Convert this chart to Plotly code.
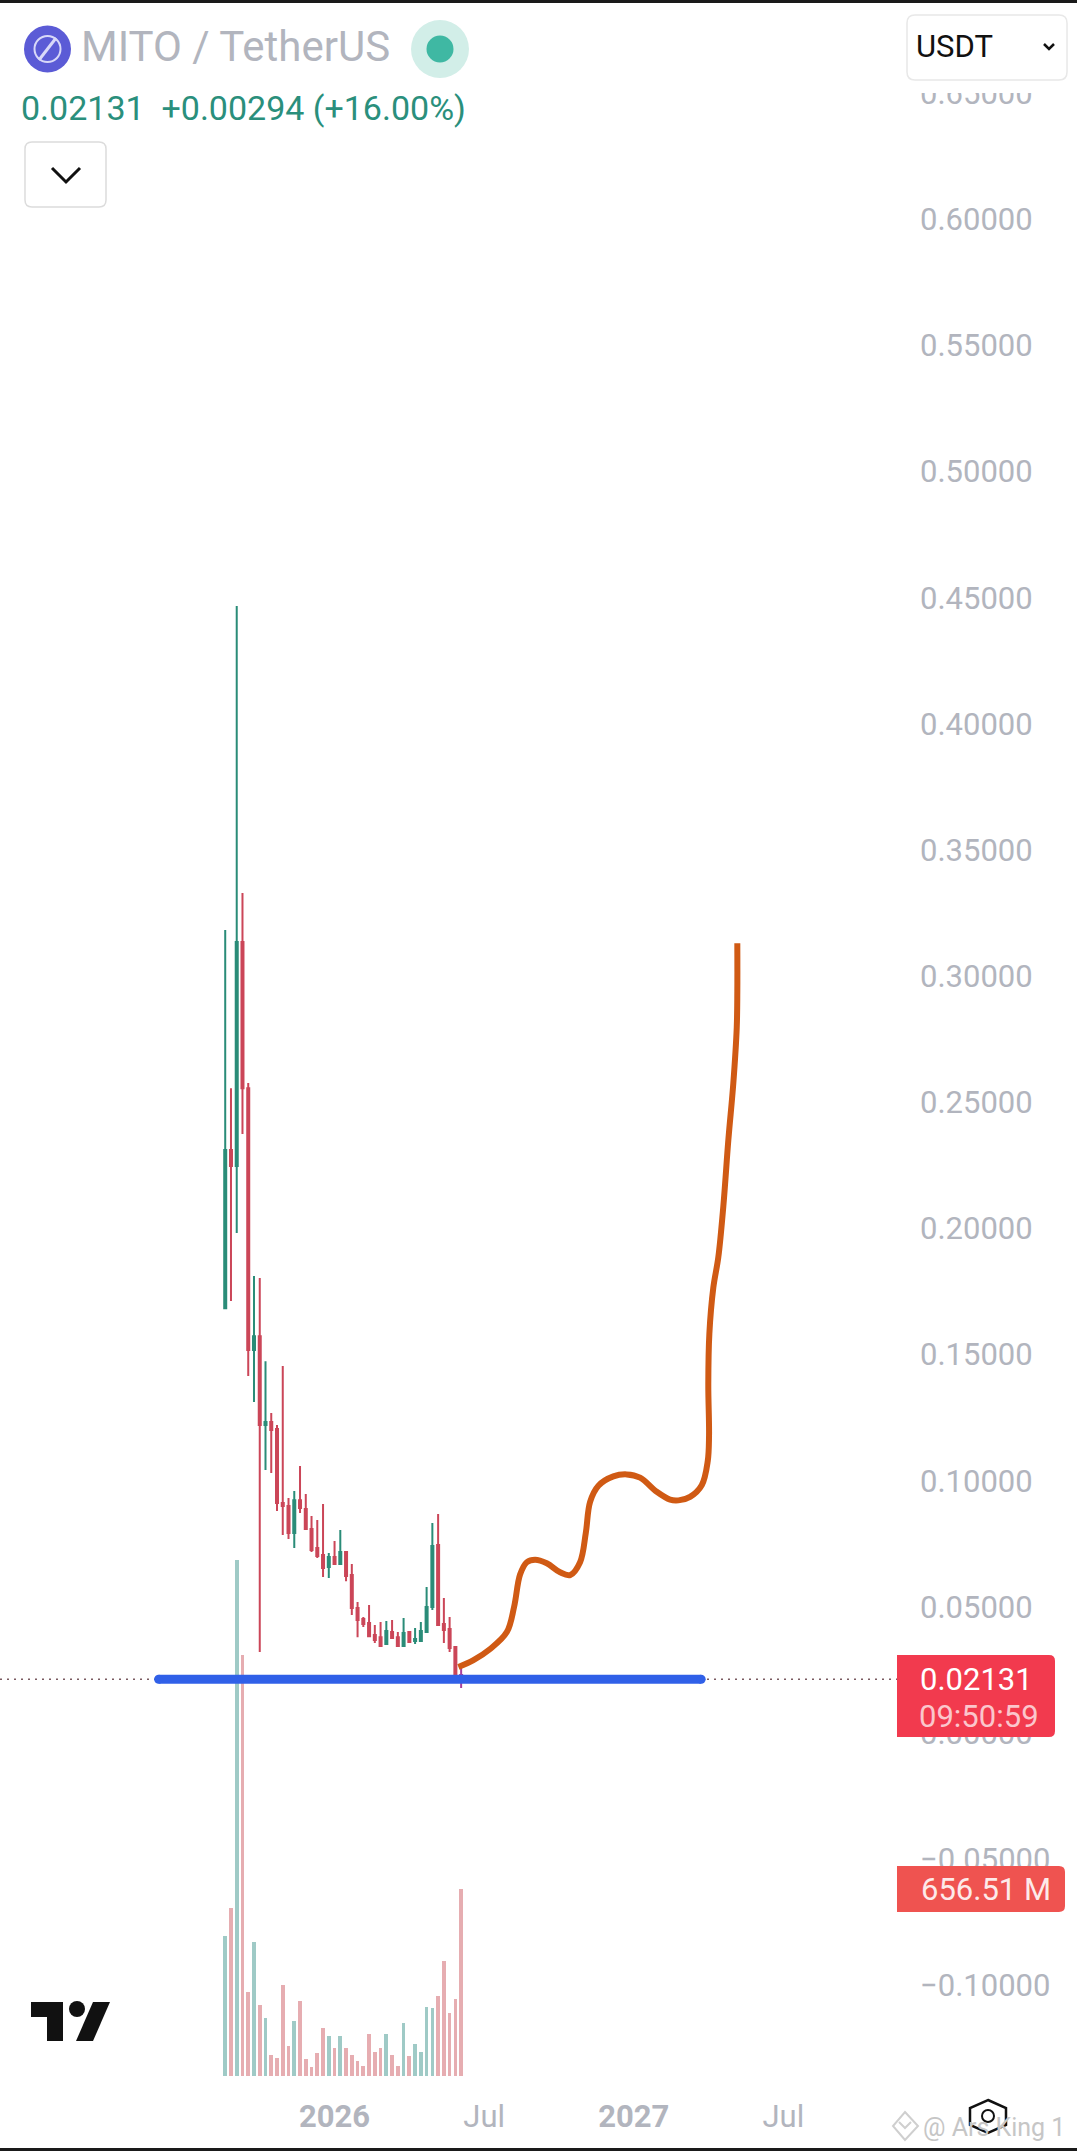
import pandas as pd
import plotly.graph_objects as go

# Weekly MITO/USDT candles
first_bar = "2025-08-18"
opens = [.1684, .2311, .2247, .3135, .2556, .1518, .1573, .1221, .1233, .1205, .0912, .0900, .0793, .0923,
         .0888, .0809, .0733, .0706, .0658, .0698, .0670, .0717, .0626, .0495, .0452, .0436, .0388, .0380,
         .0353, .0400, .0380, .0345, .0400, .0365, .0365, .0400, .0499, .0745, .0432, .0412, .0341, .0230]
highs = [.3183, .2556, .4467, .3329, .2576, .1811, .1803, .1474, .1268, .1221, .1455, .0931, .0959, .1058,
         .0947, .0860, .0844, .0908, .0713, .0761, .0805, .0717, .0670, .0519, .0460, .0507, .0428, .0440,
         .0444, .0448, .0400, .0456, .0400, .0416, .0440, .0579, .0832, .0868, .0535, .0460, .0341, .0262]
lows = [.1684, .1712, .1982, .2374, .1415, .1312, .0321, .1042, .1031, .0880, .0785, .0769, .0733, .0872,
        .0805, .0717, .0694, .0618, .0614, .0670, .0666, .0602, .0468, .0380, .0420, .0384, .0357, .0345,
        .0353, .0373, .0341, .0345, .0361, .0353, .0365, .0400, .0488, .0428, .0357, .0321, .0218, .0178]
closes = [.2311, .2247, .3135, .2556, .1518, .1573, .1221, .1233, .1201, .0912, .0900, .0793, .0923, .0892,
          .0809, .0725, .0702, .0654, .0698, .0670, .0717, .0622, .0495, .0448, .0432, .0384, .0369, .0345,
          .0404, .0377, .0345, .0396, .0361, .0373, .0404, .0499, .0741, .0428, .0408, .0337, .0230, .02131]

# volume in millions
volumes = [490, 589, 1810, 1477, 294, 472, 251, 203, 73, 64, 318, 106, 193, 262, 60, 30, 82, 169, 139, 100, 139,
           97, 75, 54, 36, 149, 85, 97, 149, 73, 36, 187, 69, 112, 85, 244, 239, 282, 403, 220, 272, 656.51]

# the hand drawn orange projection: days after the first bar, price
sketch_days = [283.7, 302, 322.3, 342.6, 351.5, 358.7, 366.9, 377, 391.2, 407.4, 419.6, 431.7, 438.7, 443.9, 454,
               472.2, 488.5, 504.7, 525, 541.2, 551.3, 565.5, 579.7, 587, 588.6, 587.7, 589, 593.8, 599.9, 606,
               612.1, 618.1, 622.3, 623, 623]
sketch_price = [.0262, .0289, .0333, .0400, .0501, .0628, .0677, .0687, .0673, .0637, .0626, .0677, .0794, .0916,
                .0980, .1017, .1025, .1012, .0956, .0925, .0922, .0936, .0982, .1077, .1178, .1381, .1583, .1765,
                .1886, .2088, .2351, .2574, .2796, .2938, .3130]

# the hand drawn blue support line
support_dates = ["2025-05-29", "2027-03-20"]
support_price = [.0213, .0213]

price_ticks = [-.10, -.05, 0, .05, .10, .15, .20, .25, .30, .35, .40, .45, .50, .55, .60, .65]
time_ticks = ["2025-12-29", "2026-06-29", "2026-12-28", "2027-06-28"]
time_labels = ["<b>2026</b>", "Jul", "<b>2027</b>", "Jul"]

GREEN = "#2a8c78"
RED = "#cb4658"
LABEL = "#b2b5be"
FONT = "Roboto"

PLOT_W, PLOT_H = 905, 2095


def X(px):
    return px / PLOT_W


def Y(py):
    return 1 - py / PLOT_H


def box(x0, y0, x1, y1, **kw):
    return dict(type="rect", xref="paper", yref="paper", x0=X(x0), y0=Y(y0), x1=X(x1), y1=Y(y1), **kw)


def rbox(x0, y0, x1, y1, r, left=True, **kw):
    # rounded rectangle; left=False keeps the left corners square like the price tags
    rl = r if left else 0
    p = lambda a, b: f"{X(a):.5f},{Y(b):.5f}"
    d = (f"M{p(x0 + rl, y0)} L{p(x1 - r, y0)} Q{p(x1, y0)} {p(x1, y0 + r)} L{p(x1, y1 - r)} Q{p(x1, y1)} {p(x1 - r, y1)} "
         f"L{p(x0 + rl, y1)} Q{p(x0, y1)} {p(x0, y1 - rl)} L{p(x0, y0 + rl)} Q{p(x0, y0)} {p(x0 + rl, y0)} Z")
    return dict(type="path", xref="paper", yref="paper", path=d, **kw)


def path(d, **kw):
    # d is a list of pixel points, closed when it is a polygon
    pts = " L".join(f"{X(a):.5f},{Y(b):.5f}" for a, b in d[0])
    return dict(type="path", xref="paper", yref="paper", path="M" + pts + (" Z" if d[1] else ""), **kw)


def disc(cx, cy, r, **kw):
    return dict(type="circle", xref="paper", yref="paper", x0=X(cx - r), x1=X(cx + r), y0=Y(cy - r), y1=Y(cy + r), **kw)


def label(text, px, py, size=31, color=LABEL, anchor="center"):
    return dict(text=text, xref="paper", yref="paper", x=X(px), y=Y(py), showarrow=False, xanchor=anchor,
                yanchor="middle", font=dict(size=size, color=color, family=FONT))


dates = pd.date_range(first_bar, periods=len(closes), freq="7D")
sketch_x = pd.Timestamp(first_bar) + pd.to_timedelta(sketch_days, unit="D")
vol_colors = ["#9fcac6" if c >= o else "#e6adb1" for o, c in zip(opens, closes)]

fig = go.Figure()

fig.add_trace(go.Bar(x=dates, y=volumes, marker_color=vol_colors, marker_line_width=0, width=3.9e8, yaxis="y"))


def candles(a, b, up, down):
    return go.Candlestick(
        x=dates[a:b], open=opens[a:b], high=highs[a:b], low=lows[a:b], close=closes[a:b], yaxis="y2",
        increasing=dict(line=dict(color=up, width=2), fillcolor=up),
        decreasing=dict(line=dict(color=down, width=2), fillcolor=down),
    )


fig.add_trace(candles(0, 41, GREEN, RED))
fig.add_trace(go.Scatter(x=support_dates, y=support_price, mode="lines+markers", yaxis="y2",
                         line=dict(color="#3060e8", width=9), marker=dict(color="#3060e8", size=9)))
fig.add_trace(candles(41, 42, GREEN, "#a8409c"))
fig.add_trace(go.Scatter(x=sketch_x, y=sketch_price, mode="lines", yaxis="y2",
                         line=dict(color="#d05a14", width=6, shape="spline", smoothing=1.0)))

shapes = [
    # dotted last price line
    dict(type="line", xref="paper", yref="y2", x0=0, x1=X(897), y0=closes[-1], y1=closes[-1],
         line=dict(color="#7a5a60", width=1.5, dash="2px,5px"), layer="below"),
    # top and bottom edge of the screenshot
    box(0, 0, 1077, 3, fillcolor="#1a1a1a", line_width=0),
    box(0, 2148, 1077, 2151, fillcolor="#1a1a1a", line_width=0),
    # header cover that cuts the top tick label
    box(906, 3, 1077, 93, fillcolor="white", line_width=0),
    # symbol logo
    disc(47.5, 49, 23.5, fillcolor="#5b5bd6", line_width=0),
    disc(47.5, 49, 13, fillcolor="rgba(0,0,0,0)", line=dict(color="#d8d8f8", width=2)),
    path(([(39, 60), (56, 38)], False), line=dict(color="#d8d8f8", width=3)),
    # market status dot
    disc(440, 49, 29, fillcolor="#d2eee8", line_width=0),
    disc(440, 49, 13.5, fillcolor="#3fb8a3", line_width=0),
    # legend toggle button
    rbox(25, 142, 106, 207, 7, fillcolor="white", line=dict(color="#dcdcdc", width=1.5)),
    path(([(52, 168), (66, 182), (80, 168)], False), line=dict(color="#111111", width=3)),
    # currency select
    rbox(907, 15, 1067, 80, 8, fillcolor="white", line=dict(color="#e8e8e8", width=1.5)),
    path(([(1044, 44), (1049, 49), (1054, 44)], False), line=dict(color="#111111", width=2.5)),
    # price and volume tags
    rbox(897, 1655, 1055, 1737, 6, left=False, fillcolor="#f23a4e", line_width=0),
    rbox(897, 1866, 1065, 1912, 6, left=False, fillcolor="#ef5350", line_width=0),
    # TradingView logo
    path(([(31, 2002), (63, 2002), (63, 2041), (47, 2041), (47, 2017), (31, 2017)], True),
         fillcolor="#111111", line_width=0),
    disc(77, 2009, 8, fillcolor="#111111", line_width=0),
    path(([(93, 2002), (110, 2002), (93, 2041), (76, 2041)], True), fillcolor="#111111", line_width=0),
    # settings hexagon
    path(([(988, 2100), (1006, 2108), (1006, 2125), (988, 2133), (970, 2125), (970, 2108)], True),
         line=dict(color="#111111", width=2.5)),
    disc(988, 2116, 6, line=dict(color="#111111", width=2)),
    # watermark mark
    path(([(905, 2112), (918, 2126), (905, 2140), (893, 2126)], True), line=dict(color="#cfcfcf", width=2)),
    path(([(899, 2122), (905, 2128), (911, 2122)], False), line=dict(color="#cfcfcf", width=2)),
]

annotations = [
    label("MITO / TetherUS", 79, 47, size=42, anchor="left"),
    label("0.02131  +0.00294 (+16.00%)", 19, 108, size=34, color="#2a8f7c", anchor="left"),
    label("USDT", 914, 47, size=31, color="#111111", anchor="left"),
    label("0.02131", 976, 1679, color="#ffffff"),
    label("09:50:59", 979, 1716, color="#fbc6cc"),
    label("656.51 M", 986, 1889, color="#fdeaea"),
    label("@ Ars King 1", 921, 2127, size=25, color="#c6c6c6", anchor="left"),
]

fig.update_layout(
    width=1077,
    height=2151,
    margin=dict(l=0, r=172, t=0, b=56),
    paper_bgcolor="white",
    plot_bgcolor="white",
    showlegend=False,
    bargap=0,
    boxgap=0.5,
    shapes=shapes,
    annotations=annotations,
    font=dict(family=FONT, color=LABEL, size=31),
    xaxis=dict(
        range=["2024-11-17", "2027-11-23"],
        rangeslider=dict(visible=False),
        tickvals=time_ticks,
        ticktext=time_labels,
        showgrid=False,
        zeroline=False,
        showline=False,
        ticks="",
        tickfont=dict(size=31, color=LABEL),
    ),
    yaxis=dict(visible=False, range=[-66.7, 7289], fixedrange=True),
    yaxis2=dict(
        overlaying="y",
        side="right",
        anchor="x",
        range=[-0.14348, 0.6869],
        tickvals=price_ticks,
        tickformat=".5f",
        showgrid=False,
        zeroline=False,
        showline=False,
        ticks="",
        ticklabelstandoff=14,
        tickfont=dict(size=31, color=LABEL),
    ),
)

# drop the browser's default page margin so pixels line up with the screenshot
fig.write_html("out.html", config=dict(displayModeBar=False), post_script="document.body.style.margin='0'")
